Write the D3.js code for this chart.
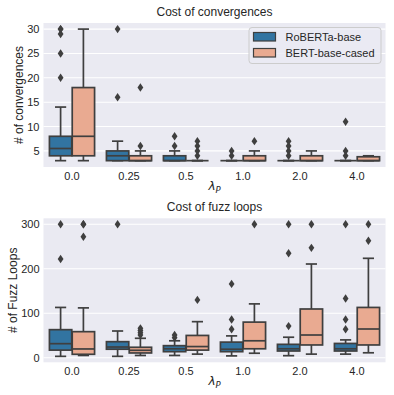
<!DOCTYPE html>
<html><head><meta charset="utf-8">
<script src="https://cdn.jsdelivr.net/npm/d3@7"></script>
<style>body{margin:0;background:#fff}svg{display:block}text{font-family:"Liberation Sans",Arial,sans-serif;fill:#262626}</style>
</head><body><svg id="c" width="394" height="395"></svg>
<script>
const categories = ["0.0","0.25","0.5","1.0","2.0","4.0"];
const seriesNames = ["RoBERTa-base","BERT-base-cased"];
const seriesColors = ["#3274A1","#E9AA91"];

// Cost of convergences
const convRobLow  = [3,3,3,3,3,3];
const convRobQ1   = [4,3,3,3,3,3];
const convRobMed  = [5.5,4,3,3,3,3];
const convRobQ3   = [8,5,4,3,3,3];
const convRobHigh = [14,7,5,3,3,3];
const convRobOut  = [[20,25,29,30,30],[16,30],[6,8],[4,5],[4,5,6,7],[4,5,11]];
const convBertLow  = [3,3,3,3,3,3];
const convBertQ1   = [4,3,3,3,3,3];
const convBertMed  = [8,3,3,3,3,3];
const convBertQ3   = [18,4,3,4,4,3.8];
const convBertHigh = [30,5,3,5,5,4];
const convBertOut  = [[],[6,18],[4,5,6,7],[7],[],[]];
const convTicks = [5,10,15,20,25,30];

// Cost of fuzz loops
const fuzzRobLow  = [3,3,5,4,4.5,8];
const fuzzRobQ1   = [17,19,13.5,13.5,15,15];
const fuzzRobMed  = [31.5,24,20,19,20,20];
const fuzzRobQ3   = [63,36,27,35,30,32];
const fuzzRobHigh = [113,60,38,49,46,40];
const fuzzRobOut  = [[222,300],[300],[45,51],[64,86,166],[71,235,300],[64,86,133,300]];
const fuzzBertLow  = [5,5,8,10,8,11];
const fuzzBertQ1   = [7.6,10.6,17,20,28.6,28.6];
const fuzzBertMed  = [19.6,16.6,25,38,51,64.5];
const fuzzBertQ3   = [58.5,23.4,50,80,109.5,113];
const fuzzBertHigh = [112,43.6,81,121,210.7,223.5];
const fuzzBertOut  = [[272,300,300],[51,56,61,66],[130],[300],[247,300],[263,300]];
const fuzzTicks = [0,100,200,300];

function stats(low,q1,med,q3,high,out){
  return categories.map((c,i)=>({cat:c,low:low[i],q1:q1[i],med:med[i],q3:q3[i],high:high[i],out:out[i]}));
}
const panels = [
  {title:"Cost of convergences", ylabel:"# of convergences", top:23, bottom:167, domain:[1.7,31.25], ticks:convTicks,
   series:[stats(convRobLow,convRobQ1,convRobMed,convRobQ3,convRobHigh,convRobOut),
           stats(convBertLow,convBertQ1,convBertMed,convBertQ3,convBertHigh,convBertOut)], legend:true, ylabX:19},
  {title:"Cost of fuzz loops", ylabel:"# of Fuzz Loops", top:218.3, bottom:362.3, domain:[-10.4,313.5], ticks:fuzzTicks,
   series:[stats(fuzzRobLow,fuzzRobQ1,fuzzRobMed,fuzzRobQ3,fuzzRobHigh,fuzzRobOut),
           stats(fuzzBertLow,fuzzBertQ1,fuzzBertMed,fuzzBertQ3,fuzzBertHigh,fuzzBertOut)], legend:false, ylabX:12.5}
];

const svg = d3.select("#c");
const L = 43.5, R = 385.5;
const lineCol = "#3F3F3F";
const x = d3.scaleBand().domain(categories).range([L,R]).paddingInner(0).paddingOuter(0);
const bw = x.bandwidth();
const hue = d3.scaleBand().domain(seriesNames).range([0.1*bw,0.9*bw]);
const boxW = hue.bandwidth()*0.98;
const lw = 1.7;

panels.forEach(p=>{
  const y = d3.scaleLinear().domain(p.domain).range([p.bottom,p.top]);
  const g = svg.append("g");
  g.append("rect").attr("x",L).attr("y",p.top).attr("width",R-L).attr("height",p.bottom-p.top).attr("fill","#EAEAF2");
  g.selectAll(".grid").data(p.ticks).join("line")
    .attr("x1",L).attr("x2",R).attr("y1",d=>y(d)).attr("y2",d=>y(d))
    .attr("stroke","#fff").attr("stroke-width",1.1);
  const ya = g.append("g").attr("transform",`translate(${L},0)`).call(d3.axisLeft(y).tickValues(p.ticks).tickSize(0).tickPadding(4).tickFormat(d3.format("d")));
  ya.select(".domain").remove();
  ya.selectAll("text").attr("font-size",11).attr("font-family","Liberation Sans, Arial, sans-serif").attr("fill","#262626");
  const xa = g.append("g").attr("transform",`translate(0,${p.bottom})`).call(d3.axisBottom(x).tickSize(0).tickPadding(5));
  xa.select(".domain").remove();
  xa.selectAll("text").attr("font-size",11).attr("font-family","Liberation Sans, Arial, sans-serif").attr("fill","#262626");
  g.append("text").attr("x",(L+R)/2).attr("y",p.top-7).attr("text-anchor","middle").attr("font-size",12).text(p.title);
  g.append("text").attr("transform",`translate(${p.ylabX},${(p.top+p.bottom)/2}) rotate(-90)`)
    .attr("text-anchor","middle").attr("dy","0.35em").attr("font-size",12).text(p.ylabel);
  const xl = g.append("text").attr("x",(L+R)/2).attr("y",p.bottom+23).attr("text-anchor","middle")
    .style("font-family","DejaVu Sans, sans-serif").attr("font-size",12);
  xl.append("tspan").attr("font-style","italic").text("λ");
  xl.append("tspan").attr("font-style","italic").attr("font-size",8.5).attr("dy",2.5).text("P");

  p.series.forEach((s,si)=>{
    const sg = g.append("g");
    s.forEach(d=>{
      const cx = x(d.cat)+hue(seriesNames[si])+hue.bandwidth()/2;
      const bg = sg.append("g");
      bg.append("line").attr("x1",cx).attr("x2",cx).attr("y1",y(d.q3)).attr("y2",y(d.high)).attr("stroke",lineCol).attr("stroke-width",lw);
      bg.append("line").attr("x1",cx).attr("x2",cx).attr("y1",y(d.q1)).attr("y2",y(d.low)).attr("stroke",lineCol).attr("stroke-width",lw);
      bg.append("line").attr("x1",cx-boxW/4).attr("x2",cx+boxW/4).attr("y1",y(d.high)).attr("y2",y(d.high)).attr("stroke",lineCol).attr("stroke-width",lw);
      bg.append("line").attr("x1",cx-boxW/4).attr("x2",cx+boxW/4).attr("y1",y(d.low)).attr("y2",y(d.low)).attr("stroke",lineCol).attr("stroke-width",lw);
      bg.append("rect").attr("x",cx-boxW/2).attr("width",boxW).attr("y",y(d.q3)).attr("height",Math.max(0,y(d.q1)-y(d.q3)))
        .attr("fill",seriesColors[si]).attr("stroke",lineCol).attr("stroke-width",lw);
      bg.append("line").attr("x1",cx-boxW/2).attr("x2",cx+boxW/2).attr("y1",y(d.med)).attr("y2",y(d.med)).attr("stroke",lineCol).attr("stroke-width",lw);
      bg.selectAll("path").data(d.out).join("path")
        .attr("d",v=>`M${cx},${y(v)-4.2}L${cx+2.9},${y(v)}L${cx},${y(v)+4.2}L${cx-2.9},${y(v)}Z`)
        .attr("fill",lineCol);
    });
  });

  if(p.legend){
    const lg = g.append("g").attr("transform","translate(249,27.5)");
    lg.append("rect").attr("width",132).attr("height",36).attr("rx",3).attr("fill","#EAEAF2").attr("fill-opacity",0.8).attr("stroke","#CCCCCC").attr("stroke-width",1);
    seriesNames.forEach((n,i)=>{
      lg.append("rect").attr("x",4.5).attr("y",5+i*16).attr("width",22).attr("height",8.5)
        .attr("fill",seriesColors[i]).attr("stroke",lineCol).attr("stroke-width",1.2);
      lg.append("text").attr("x",36.5).attr("y",9.3+i*16).attr("dy","0.35em").attr("font-size",11).text(n);
    });
  }
});
</script></body></html>
